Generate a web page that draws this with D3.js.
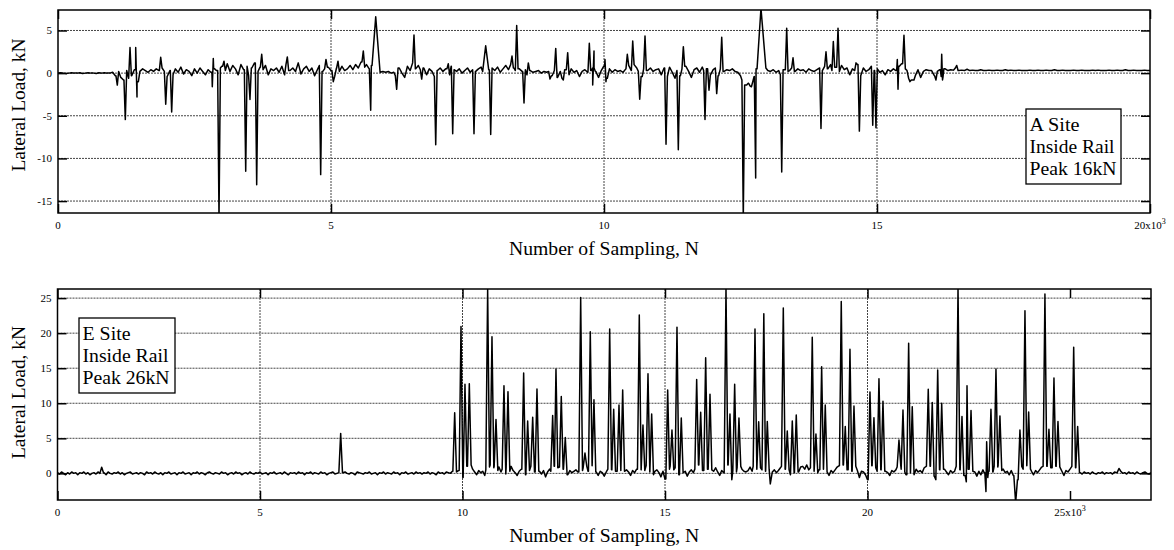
<html lang="en">
<head>
	<script src="https://cdn.jsdelivr.net/npm/d3@7"></script>
	<style>
		body { margin: 0; background: #fff; }
		text { font-family: "Liberation Serif", "Times New Roman", serif; fill: #000; }
	</style>
</head>
<body>
	<script type="text/javascript">
		var w = 1174;
		var h = 550;

		// ---- A site (top), N in samples, load in kN ----
		var aStep = 50; // baseline read every 50 N, one row = 1000 N
		var aBase = [
			0,0.05,0,-0.05,0,0.05,0,0,0.05,-0.05,0,0.05,0,0,-0.05,0.05,0,0.05,0,0,
			0.1,-0.3,0.2,-0.5,-0.8,0.3,-0.6,-0.3,0.4,-1.0,0.2,0.5,0.3,0.1,0.4,0.2,0.5,0.3,0.6,0.2,
			-0.4,0.3,-0.2,0.5,0.1,0.7,-0.1,0.4,0.2,-0.3,0.5,0,0.6,0.2,-0.2,0.4,0.1,0.5,0.3,0.6,
			0.8,0.3,1.1,0.2,0.9,0.5,-0.2,1.0,0.4,0.8,-0.3,0.6,1.2,0.2,0.7,0.4,0.9,-0.2,0.5,0.3,
			0.6,0.1,0.8,-0.2,1.0,0.3,0.6,0.2,1.2,-0.1,0.5,0.8,0.2,0.6,-0.3,0.4,0.9,0.2,0.5,0.7,
			0.3,-0.4,0.6,0.2,0.8,0.3,0.5,0.9,0.4,1.0,0.6,1.3,0.7,1.0,0.5,0.9,0.3,0.2,0.1,0.2,
			0.1,0.2,0,0.1,-0.3,0.6,0,-0.5,0.8,0.3,1.2,0.5,0.9,0.4,0.6,-0.2,0.5,0.2,-0.4,0.3,
			0.6,0.2,0.5,-0.2,0.8,0.4,0.2,0.5,0,0.3,0.6,0.1,0.4,0.2,0.5,0.7,0.2,0.8,0.4,0.6,
			0.3,0.7,0.1,0.5,0.9,0.4,1.0,0.6,0.3,0.5,0.2,0.4,-0.2,0.3,0.1,0.2,0.3,0,0.2,0.1,
			0.2,-0.3,0.3,-0.5,0.2,-0.6,0.4,-0.2,0.5,0.1,0.3,-0.4,0.2,0.4,0.1,0.3,0.6,0.2,-0.5,0.3,
			0.8,-0.6,0.5,0.1,0.4,0.2,0.3,0.1,0.5,0.9,0.3,1.0,0.6,0.2,-0.4,0.5,0.3,0.6,0.2,0.4,
			0.5,-0.2,0.6,-0.4,0.7,0.1,-0.6,0.3,-0.3,0.5,0.8,0.2,-0.5,0.4,0.6,0.1,0.7,0.3,0.5,-0.2,
			0.4,0.6,-0.3,0.5,0.2,0.4,0.3,0.5,0.2,0.1,-0.3,-0.8,-1.4,-1.2,-1.6,-0.4,0.5,0.8,1.5,0.6,
			0.3,0.2,0.4,0.1,0.3,-0.2,0.4,0.2,0.3,0.6,0.2,0.5,0.3,0.4,0.1,0.5,0.3,0.2,0.4,0.6,
			0.3,0.8,0.5,1.0,0.3,0.7,0.2,0.9,0.4,0.6,-0.2,0.5,0.3,1.0,-0.3,0.6,0.2,0.4,0.8,0.3,
			0.5,0.1,0.3,-0.2,0.4,0.2,0.5,0.3,0.8,1.1,0.5,0.3,-0.6,-0.8,-0.3,0.4,-0.5,0.2,0.4,0.3,
			0.3,-0.3,0.2,0.4,-0.4,0.5,0.3,0.4,0.35,0.6,0.3,0.35,0.3,0.45,0.3,0.35,0.3,0.3,0.4,0.3,
			0.3,0.35,0.3,0.3,0.35,0.3,0.3,0.4,0.3,0.35,0.3,0.3,0.35,0.3,0.3,0.3,0.35,0.3,0.3,0.35,
			0.3,0.3,0.35,0.3,0.3,0.4,0.3,0.3,0.35,0.3,0.3,0.3,0.35,0.3,0.3,0.35,0.3,0.3,0.3,0.35,
			0.3,0.35,0.3,0.3,0.3,0.35,0.3,0.3,0.35,0.3,0.3,0.4,0.3,0.3,0.35,0.3,0.3,0.3,0.35,0.3,
			0.3
		];
		// [N, peak kN, optional half width in N]
		var aSpikes = [
			[1086,-1.4],[1233,-5.45],[1319,3.0],[1423,3.0],[1447,-2.8],[1881,1.85],[1973,-3.65],[2082,-4.55],
			[2826,-1.6],[2844,1.7],[2949,-17],[3040,1.4],[3438,-11.5],[3516,-3.1],[3639,-13.1],[3731,2.2],
			[4200,1.9],[4811,-11.9],[4908,1.6],[5042,-1.0],[5128,1.4],[5592,2.6],[5727,-4.35],[5819,6.6,80],
			[6203,-1.9],[6520,4.47],[6661,-0.7],[6918,-8.4],[7148,1.1],[7229,-7.1],[7619,-7.1],[7833,3.2,55],
			[7925,-7.2],[8315,2.0],[8401,5.57],[8535,-3.5],[8614,1.2],[9011,-0.7],[9116,2.9],[9255,-0.8],
			[9335,2.4],[9731,3.5],[9793,-1.4],[9817,2.6],[10018,1.6],[10036,-1.0],[10427,2.2],[10526,3.76],
			[10654,-3.06],[10751,4.35],[11136,-8.35],[11361,-8.98],[11453,3.1],[11850,-5.45],[11923,-2.0],
			[12064,-2.4],[12156,4.2],[12551,-17],[12613,-1.4],[12674,-1.5],[12778,-12.3],[12875,7.6,90],
			[13255,-11.6],[13346,5.25],[13462,1.8],[13974,-6.5],[14066,2.5],[14200,3.7],[14286,5.25],
			[14616,1.2],[14677,-6.8],[14922,-6.1],[14981,-6.4],[15372,1.6],[15385,-1.9],[15494,4.43],
			[15604,-1.0],[15677,-0.8],[16080,-0.8],[16185,2.2],[16200,-0.8],[16460,0.9]
		];

		// ---- E site (bottom) ----
		var eStep = 50;
		var eBase = [
			0.1,-0.1,0.2,0,-0.2,0.1,-0.1,0.2,0,0.1,-0.2,0.1,0,0.2,-0.1,0.1,-0.2,0,0.1,-0.1,
			0.2,0,-0.1,0.1,-0.2,0.2,0,-0.1,0.1,0,0.2,-0.1,0.1,-0.2,0,0.1,0.2,-0.1,0,0.1,
			-0.1,0.1,0,-0.2,0.2,0,0.1,-0.1,0.2,0,-0.1,0.1,-0.2,0.1,0,0.2,-0.1,0,0.1,-0.2,
			0.1,0,0.2,-0.1,0,0.1,-0.2,0.1,0,0.2,-0.1,0.1,0,-0.2,0.1,0.2,0,-0.1,0.1,0,
			-0.1,0.2,0,0.1,-0.2,0,0.1,-0.1,0.2,0,0.1,-0.2,0,0.1,-0.1,0.2,0,-0.1,0.1,0,
			0.2,-0.1,0,0.1,-0.2,0.1,0,0.2,-0.1,0,0.1,-0.1,0.2,0,-0.2,0.1,0,0.1,-0.1,0.2,
			0,0.1,-0.2,0.1,0,0.2,-0.1,0.1,0,-0.1,0.2,0,0.1,-0.2,0,0.1,0.2,-0.1,0,0.1,
			-0.1,0.1,0.2,0,-0.1,0.1,0,-0.2,0.2,0.1,0,-0.1,0.1,0,0.2,-0.1,0,0.1,-0.2,0.1,
			0,0.2,-0.1,0.1,0,-0.1,0.2,0,0.1,-0.2,0.1,0,0.2,-0.1,0,0.1,-0.1,0.2,0,0.1,
			-0.1,0.1,0,0.2,-0.1,0.1,0,-0.2,0.2,0,0.1,-0.1,0.2,0.1,0,0.3,-0.1,0.2,0.4,-0.4,
			-0.6,0.8,1.0,0.5,1.2,0.6,0.2,-0.2,0.4,0.1,0.3,-0.3,0.5,0.9,1.2,0.8,1.0,0.4,0.9,0.2,
			0.6,-0.1,0.8,0.3,1.0,0.4,0.1,-0.3,0.3,0.6,0.2,-0.2,0.9,0.4,1.0,0.6,0.2,0.8,0.3,-0.1,
			0.4,-0.5,0.2,0.6,0.3,1.0,0.5,0.8,0.9,1.2,0.6,0.3,-0.2,0.4,0.1,0.3,0.5,0.2,0.9,0.4,
			0.8,1.0,0.3,0.6,1.1,0.5,0.2,-0.3,0.3,0.1,-0.4,0.2,0.6,0.9,0.5,1.0,0.3,-1.0,0.4,0.8,
			0.3,0.5,0.2,-0.3,0.4,0.1,0.6,1.0,0.5,0.9,0.4,1.1,0.6,0.2,-0.2,0.3,0.5,0.1,-0.5,0.3,
			-0.8,0.2,0.6,1.0,0.5,0.8,0.3,-0.2,0.4,0.1,0.3,-0.4,0.2,0.5,0.1,0.6,0.9,1.2,0.8,0.4,
			1.0,0.6,1.1,0.5,0.3,0.8,0.2,-0.3,0.4,0.1,0.9,1.2,0.5,-0.9,0.4,0.2,0.8,1.0,0.6,0.3,
			0.2,0.4,0.9,0.3,1.0,0.6,1.2,0.8,0.5,-0.2,0.3,0.6,-1.5,0.2,0.5,0.1,0.4,0.8,1.0,0.6,
			0.3,0.5,-0.2,0.3,0.1,0.4,0.2,0.9,1.0,0.6,1.2,0.5,0.8,-0.5,0.3,0.1,0.5,0.2,0.6,0.4,
			0.2,-0.3,0.4,0.1,0.5,0.9,1.1,0.6,1.2,0.8,0.5,-1.2,0.3,0.9,1.0,0.4,-0.6,0.3,0.2,-0.2,
			-0.9,0.6,1.1,0.4,0.8,0.3,1.0,0.5,-0.2,0.3,0.1,-0.3,0.4,0.2,0.5,0.9,1.1,0.6,0.2,-0.2,
			0.3,0.1,0.5,-0.2,0.6,0.2,0.4,0.1,0.8,1.0,0.6,1.0,0.5,-0.4,-0.9,0.3,0.5,0.8,0.6,0.2,
			-0.2,0.4,0.1,0.3,1.0,0.9,0.5,1.0,-0.3,0.4,0.6,1.0,0.3,0.2,-0.4,0.3,-0.2,0.5,0.1,-0.6,
			0.3,0.6,0.2,1.0,0.9,1.1,0.4,0.6,0.1,0.3,-0.2,0.4,-0.3,0.2,-0.9,0.5,1.0,0.6,0.8,1.1,
			0.6,0.3,-0.2,0.4,0.1,0.5,0.9,1.0,0.3,1.0,0.6,0.8,0.2,1.0,0.6,0.9,0.3,-0.3,0.4,0.2,
			0.6,1.0,0.4,0.8,0.2,0.1,-0.1,0.2,0,0.1,-0.1,0.2,0,-0.1,0.1,0,0.2,-0.1,0.1,0,
			0.1,-0.1,0.2,0.1,0.5,0.3,0,0.1,-0.1,0.2,0,0.1,-0.1,0.2,0,-0.1,0.1,0.2,0,-0.1,
			0.1
		];
		var eSpikes = [
			[1091,0.86],[6992,5.7],
			[9807,8.66],[9963,20.95],[10061,12.7],[10168,12.8],[10621,26.3],[10728,19.5],[10827,7.7],
			[11024,12.5],[11123,11.66],[11510,14.3],[11609,7.47],[11733,8.0],[11839,12.04],
			[12226,8.24],[12308,14.9],[12439,10.95],[12538,5.1],[12918,25.1],[13024,2.9],[13155,20.2],
			[13246,10.5],[13634,20.6],[13733,9.14],[13864,9.76],[13955,11.9],[14365,22.6],[14456,6.9],
			[14580,14.2],[14671,8.47],[15066,11.9],[15172,6.19],[15296,20.86],[15402,7.9],[15782,13.4],
			[15881,8.71],[16004,16.5],[16111,11.3],[16506,26.5],[16604,8.47],[16720,12.7],[16826,7.9],
			[17222,20.6],[17313,7.37],[17440,22.76],[17526,7.4],[17921,23.6],[18019,6.04],[18143,7.47],
			[18241,8.33],[18636,19.4],[18727,5.6],[18868,15.2],[18957,9.76],[19352,24.5],[19451,6.67],
			[19567,17.7],[19666,9.6],[20061,11.6],[20159,7.95],[20283,13.5],[20382,10.3],[20777,4.76],
			[20876,9.04],[21016,18.57],[21105,9.52],[21500,12.0],[21599,10.1],[21733,14.76],[21832,10.0],
			[22235,26.5],[22333,8.1],[22440,-1.2],[22457,12.5],[22556,8.95],[22925,-2.6],[22942,4.5],
			[23048,9.14],[23172,14.9],[23270,8.2],[23658,-4.2],[23764,6.19],[23888,23.2],[23979,8.76],
			[24381,25.6],[24480,6.28],[24604,13.6],[24703,7.4],[25091,18.0],[25189,6.67],[26209,0.7]
		];

		var aTicksX = [0, 5000, 10000, 15000, 20000];
		var aTickLabels = ["0", "5", "10", "15", "20"];
		var aTicksY = [-15, -10, -5, 0, 5];
		var eTicksX = [0, 5000, 10000, 15000, 20000, 25000];
		var eTickLabels = ["0", "5", "10", "15", "20", "25"];
		var eTicksY = [0, 5, 10, 15, 20, 25];

		var svg = d3.select("body")
				.append("svg")
				.attr("width", w)
				.attr("height", h);

		// baseline points plus a triangle for every spike, sorted by N
		function buildSeries(base, step, spikes, hw) {
			var pts = base.map(function(v, i) { return [i * step, v]; })
				.filter(function(p) {
					return !spikes.some(function(s) {
						var half = s[2] || hw;
						return p[0] > s[0] - half && p[0] < s[0] + half;
					});
				});
			spikes.forEach(function(s) {
				var half = s[2] || hw;
				var l = base[Math.round((s[0] - half) / step)];
				var r = base[Math.round((s[0] + half) / step)];
				pts.push([s[0] - half, l], [s[0], s[1]], [s[0] + half, r]);
			});
			pts.sort(function(a, b) { return a[0] - b[0]; });
			return pts;
		}

		function panel(o) {
			var x = d3.scaleLinear().domain(o.xDomain).range([o.left, o.right]);
			var y = d3.scaleLinear().domain(o.yDomain).range([o.bottom, o.top]);
			var g = svg.append("g");

			g.append("clipPath").attr("id", o.id)
				.append("rect")
				.attr("x", o.left).attr("y", o.top)
				.attr("width", o.right - o.left).attr("height", o.bottom - o.top);

			// dotted grid
			g.selectAll(".gy").data(o.ticksY).enter().append("line")
				.attr("x1", o.left).attr("x2", o.right)
				.attr("y1", function(d) { return y(d); }).attr("y2", function(d) { return y(d); })
				.attr("stroke", "#444").attr("stroke-width", 1).attr("stroke-dasharray", "2,1");
			g.selectAll(".gx").data(o.ticksX.slice(1, -1)).enter().append("line")
				.attr("y1", o.top).attr("y2", o.bottom)
				.attr("x1", function(d) { return x(d); }).attr("x2", function(d) { return x(d); })
				.attr("stroke", "#444").attr("stroke-width", 1).attr("stroke-dasharray", "2,1");

			// signal
			var line = d3.line()
				.x(function(d) { return x(d[0]); })
				.y(function(d) { return y(d[1]); });
			g.append("path")
				.datum(buildSeries(o.base, o.step, o.spikes, o.hw))
				.attr("d", line)
				.attr("clip-path", "url(#" + o.id + ")")
				.attr("fill", "none")
				.attr("stroke", "#000")
				.attr("stroke-width", 1.5)
				.attr("stroke-linejoin", "round");

			// inward ticks on all four sides
			g.append("g").attr("transform", "translate(" + o.left + ",0)")
				.call(d3.axisRight(y).tickValues(o.ticksY).tickSize(9).tickFormat(""));
			g.append("g").attr("transform", "translate(" + o.right + ",0)")
				.call(d3.axisLeft(y).tickValues(o.ticksY).tickSize(9).tickFormat(""));
			g.append("g").attr("transform", "translate(0," + o.bottom + ")")
				.call(d3.axisTop(x).tickValues(o.ticksX).tickSize(9).tickFormat(""));
			g.append("g").attr("transform", "translate(0," + o.top + ")")
				.call(d3.axisBottom(x).tickValues(o.ticksX).tickSize(9).tickFormat(""));
			g.selectAll(".domain").remove();
			g.selectAll(".tick line").attr("stroke", "#000").attr("stroke-width", 1.5);

			// frame
			g.append("rect")
				.attr("x", o.left).attr("y", o.top)
				.attr("width", o.right - o.left).attr("height", o.bottom - o.top)
				.attr("fill", "none").attr("stroke", "#000").attr("stroke-width", 1.5);

			// tick labels
			g.selectAll(".ly").data(o.ticksY).enter().append("text")
				.attr("x", o.left - 6).attr("y", function(d) { return y(d) + 4; })
				.attr("text-anchor", "end").style("font-size", "11px")
				.text(function(d) { return d; });
			g.selectAll(".lx").data(o.ticksX).enter().append("text")
				.attr("x", function(d) { return x(d); }).attr("y", o.bottom + 16)
				.attr("text-anchor", "middle").style("font-size", "11px")
				.each(function(d, i) {
					var t = d3.select(this);
					if (i == o.ticksX.length - 1 && o.expLast) {
						t.append("tspan").text(o.tickLabels[i] + "x10");
						t.append("tspan").attr("dy", -5).style("font-size", "8px").text("3");
					} else {
						t.text(o.tickLabels[i]);
					}
				});

			// axis titles
			g.append("text")
				.attr("x", (o.left + o.right) / 2).attr("y", o.bottom + 42)
				.attr("text-anchor", "middle").style("font-size", "19.5px")
				.attr("textLength", 190).attr("lengthAdjust", "spacingAndGlyphs")
				.text("Number of Sampling, N");
			g.append("text")
				.attr("transform", "translate(25," + o.titleY + ") rotate(-90)")
				.attr("text-anchor", "middle").style("font-size", "19px")
				.attr("textLength", 133).attr("lengthAdjust", "spacingAndGlyphs")
				.text("Lateral Load, kN");

			// note box
			var bx = o.box[0], by = o.box[1];
			g.append("rect")
				.attr("x", bx).attr("y", by).attr("width", o.box[2]).attr("height", o.box[3])
				.attr("fill", "#fff").attr("stroke", "#000").attr("stroke-width", 1.3);
			o.note.forEach(function(s, i) {
				g.append("text")
					.attr("x", bx + 3.5).attr("y", by + 22 + i * 22)
					.style("font-size", "19px")
					.attr("textLength", o.noteLen[i]).attr("lengthAdjust", "spacingAndGlyphs")
					.text(s);
			});
		}

		panel({
			id: "clipA", left: 58, right: 1150, top: 10, bottom: 213,
			xDomain: [0, 20000], yDomain: [-16.4, 7.4],
			ticksX: aTicksX, tickLabels: aTickLabels, ticksY: aTicksY, expLast: true,
			base: aBase, step: aStep, spikes: aSpikes, hw: 25, titleY: 105,
			box: [1026, 109, 95, 75], note: ["A Site", "Inside Rail", "Peak 16kN"], noteLen: [50, 85, 87]
		});

		panel({
			id: "clipE", left: 57.5, right: 1151, top: 289, bottom: 500,
			xDomain: [0, 27000], yDomain: [-3.8, 26.3],
			ticksX: eTicksX, tickLabels: eTickLabels, ticksY: eTicksY, expLast: true,
			base: eBase, step: eStep, spikes: eSpikes, hw: 45, titleY: 392.5,
			box: [79, 318, 96, 75], note: ["E Site", "Inside Rail", "Peak 26kN"], noteLen: [48, 86, 87]
		});
	</script>
</body>
</html>
